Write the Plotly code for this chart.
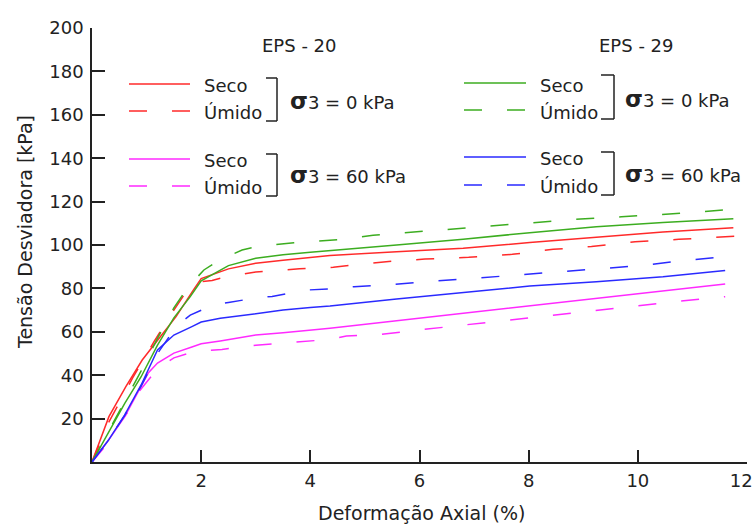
import plotly.graph_objects as go

# ---- data (x: Deformação Axial %, y: Tensão Desviadora kPa) ----
eps20_s0_seco_x = [0, 0.31, 0.62, 0.92, 1.23, 1.54, 1.85, 2.0, 2.5, 3.0, 3.5, 4.0, 4.36, 5.58, 6.8, 8.02, 9.24, 10.46, 11.75]
eps20_s0_seco_y = [0, 20.9, 34.7, 47, 57, 67, 79, 84.5, 89, 91.6, 93, 94.3, 95.2, 96.9, 98.5, 101.1, 103.5, 106, 108]

eps20_s0_umido_x = [0, 0.3, 0.75, 1.15, 1.5, 1.74, 1.95, 2.2, 2.4, 3.0, 3.8, 4.42, 4.73, 5.19, 5.52, 6.1, 6.9, 7.7, 8.45, 9.15, 9.95, 10.75, 11.6, 11.8]
eps20_s0_umido_y = [0, 18, 39, 56, 70, 79, 83, 83.6, 85, 87.6, 89, 89.7, 90.6, 91.8, 92.6, 93.5, 94.3, 95.7, 98, 99.3, 101.5, 102.6, 103.7, 104.1]

eps20_s60_seco_x = [0, 0.3, 0.6, 0.9, 1.03, 1.2, 1.5, 1.83, 2.0, 2.35, 3.0, 3.5, 4.0, 4.36, 5.58, 6.8, 8.02, 9.24, 10.46, 11.6]
eps20_s60_seco_y = [0, 10, 20.9, 34.7, 41, 45.6, 50.2, 53, 54.5, 55.8, 58.5, 59.6, 60.8, 61.6, 65.1, 68.5, 71.9, 75.4, 78.5, 82]

eps20_s60_umido_x = [0, 0.3, 0.46, 0.64, 0.86, 0.98, 1.2, 1.5, 1.8, 2.08, 2.38, 3.0, 3.8, 4.36, 4.66, 5.31, 6.05, 6.84, 7.59, 8.37, 9.13, 9.9, 10.65, 11.6]
eps20_s60_umido_y = [0, 9, 16.3, 22.4, 32.4, 36.3, 43, 48, 50.3, 51.3, 51.9, 53.8, 55.4, 56.5, 58.1, 58.9, 61, 63.2, 65.5, 67.5, 69.5, 71.6, 73.8, 76.2]

eps29_s0_seco_x = [0, 0.3, 0.6, 0.9, 1.2, 1.5, 1.8, 2.0, 2.5, 3.0, 3.5, 4.0, 4.36, 5.58, 6.8, 8.02, 9.24, 10.46, 11.75]
eps29_s0_seco_y = [0, 13.5, 27, 39.3, 53.9, 66.4, 76.2, 83.5, 90.5, 93.9, 95.5, 96.7, 97.4, 100, 102.6, 105.7, 108.4, 110.4, 112.1]

eps29_s0_umido_x = [0, 0.3, 0.6, 0.9, 1.2, 1.5, 1.74, 2.05, 2.33, 2.75, 3.05, 3.7, 4.36, 4.57, 5.15, 5.95, 6.7, 7.45, 8.2, 8.95, 9.7, 10.45, 11.05, 11.75]
eps29_s0_umido_y = [0, 14, 28, 42, 57, 71, 80, 88.5, 93, 97.7, 99.4, 101, 102.2, 102.6, 104.5, 106.1, 107.6, 109.1, 110.7, 112, 113, 114.3, 115, 116.6]

eps29_s60_seco_x = [0, 0.3, 0.6, 0.9, 1.2, 1.5, 1.83, 2.0, 2.35, 3.0, 3.5, 4.0, 4.36, 5.58, 6.8, 8.02, 9.24, 10.46, 11.6]
eps29_s60_seco_y = [0, 10, 21.7, 35.5, 51.6, 58.5, 62.4, 64.5, 66.2, 68.4, 70, 71.2, 71.9, 75.1, 78.2, 81.1, 83.1, 85.4, 88.2]

eps29_s60_umido_x = [0, 0.3, 0.6, 0.9, 1.2, 1.4, 1.56, 1.8, 2.2, 2.5, 3.0, 3.3, 3.9, 4.5, 4.8, 5.44, 6.2, 6.97, 7.73, 8.5, 9.27, 10.05, 10.8, 11.6]
eps29_s60_umido_y = [0, 10, 21.5, 35, 50, 57, 63, 67.7, 72.2, 73.5, 75.6, 76.3, 79.2, 80, 80.8, 81.6, 83.3, 84.6, 86.1, 87.8, 89, 90.5, 92.7, 94.6]

x_ticks = [2, 4, 6, 8, 10, 12]
x_ticktext = ["2", "4", "6", "8", "10", "12\u00a0\u00a0"]
y_ticks = [20, 40, 60, 80, 100, 120, 140, 160, 180, 200]

RED = "#ff2a2a"
GREEN = "#3cad20"
BLUE = "#2a2aff"
MAGENTA = "#ff2aff"
DASH = "18px,25px"
TXT = "#222222"
FONT = "DejaVu Sans"

series = [
    (eps20_s0_seco_x, eps20_s0_seco_y, RED, "solid"),
    (eps20_s0_umido_x, eps20_s0_umido_y, RED, DASH),
    (eps20_s60_seco_x, eps20_s60_seco_y, MAGENTA, "solid"),
    (eps20_s60_umido_x, eps20_s60_umido_y, MAGENTA, DASH),
    (eps29_s0_seco_x, eps29_s0_seco_y, GREEN, "solid"),
    (eps29_s0_umido_x, eps29_s0_umido_y, GREEN, DASH),
    (eps29_s60_seco_x, eps29_s60_seco_y, BLUE, "solid"),
    (eps29_s60_umido_x, eps29_s60_umido_y, BLUE, DASH),
]

fig = go.Figure()
for xs, ys, col, dash in series:
    fig.add_trace(go.Scatter(x=xs, y=ys, mode="lines",
                             line=dict(color=col, width=1.5, dash=dash),
                             showlegend=False, hoverinfo="skip"))

# layout geometry
W, H = 753, 525
L, R, T, B = 92, 6, 28, 63
PW, PH = W - L - R, H - T - B

def px(xp):
    return (xp - L) / PW

def py(yp):
    return (H - B - yp) / PH

shapes = []
annotations = []

def legend_line(x0, x1, y, col, dash):
    shapes.append(dict(type="line", xref="paper", yref="paper",
                       x0=px(x0), x1=px(x1), y0=py(y), y1=py(y),
                       line=dict(color=col, width=1.5, dash=dash)))

def text(x, y, s, size=18, anchor="left"):
    annotations.append(dict(xref="paper", yref="paper", x=px(x), y=py(y),
                            text=s, showarrow=False, xanchor=anchor, yanchor="middle",
                            font=dict(family=FONT, size=size, color=TXT)))

def bracket(x, y0, y1, xl):
    for seg in [(x, y0, x, y1), (xl, y0, x, y0), (xl, y1, x, y1)]:
        shapes.append(dict(type="line", xref="paper", yref="paper",
                           x0=px(seg[0]), y0=py(seg[1]), x1=px(seg[2]), y1=py(seg[3]),
                           line=dict(color=TXT, width=1.5)))

SIG = "<span style='font-size:23px'><b>σ</b></span>3 = "

# EPS-20 legend
text(299, 45, "EPS\u00a0-\u00a020", anchor="center")
legend_line(129, 190, 84, RED, "solid")
legend_line(129, 190, 111, RED, DASH)
text(202, 85, "Seco")
text(202, 112, "Úmido")
bracket(277, 78, 121, 266)
text(288, 101, SIG + "0 kPa")
legend_line(129, 190, 159, MAGENTA, "solid")
legend_line(129, 190, 186, MAGENTA, DASH)
text(202, 160, "Seco")
text(202, 187, "Úmido")
bracket(277, 154, 196, 266)
text(288, 175, SIG + "60 kPa")

# EPS-29 legend
text(636, 45, "EPS\u00a0-\u00a029", anchor="center")
legend_line(464, 526, 83, GREEN, "solid")
legend_line(464, 526, 110, GREEN, DASH)
text(538, 85, "Seco")
text(538, 112, "Úmido")
bracket(614, 75, 119, 601)
text(623, 99, SIG + "0 kPa")
legend_line(464, 526, 157, BLUE, "solid")
legend_line(464, 526, 185, BLUE, DASH)
text(538, 158, "Seco")
text(538, 186, "Úmido")
bracket(614, 152, 195, 601)
text(623, 174, SIG + "60 kPa")

# axis titles
annotations.append(dict(xref="paper", yref="paper", x=px(421), y=py(513),
                        text="Deformação Axial (%)", showarrow=False,
                        xanchor="center", yanchor="middle",
                        font=dict(family=FONT, size=19, color=TXT)))
annotations.append(dict(xref="paper", yref="paper", x=px(25), y=py(232),
                        text="Tensão Desviadora [kPa]", showarrow=False, textangle=-90,
                        xanchor="center", yanchor="middle",
                        font=dict(family=FONT, size=19, color=TXT)))

fig.update_layout(
    width=W, height=H,
    margin=dict(l=L, r=R, t=T, b=B, autoexpand=False),
    paper_bgcolor="white", plot_bgcolor="white",
    shapes=shapes, annotations=annotations,
    font=dict(family=FONT, size=18, color=TXT),
    showlegend=False,
)
fig.update_xaxes(range=[0, 12], tickvals=x_ticks, ticktext=x_ticktext,
                 ticks="inside", ticklen=12, automargin=False,
                 tickwidth=1.5, tickcolor=TXT, showline=True, linecolor=TXT,
                 linewidth=1.5, showgrid=False, zeroline=False,
                 tickfont=dict(family=FONT, size=18, color=TXT), ticklabelstandoff=2,
                 ticklabeloverflow="allow")
fig.update_yaxes(range=[0, 200], tickvals=y_ticks, ticks="inside", ticklen=13,
                 automargin=False,
                 tickwidth=1.5, tickcolor=TXT, showline=True, linecolor=TXT,
                 linewidth=1.5, showgrid=False, zeroline=False,
                 tickfont=dict(family=FONT, size=18, color=TXT), ticklabelstandoff=3,
                 ticklabeloverflow="allow")

fig.write_html("out.html", config={"displayModeBar": False},
               post_script="document.body.style.margin='0';document.body.style.overflow='hidden';")
